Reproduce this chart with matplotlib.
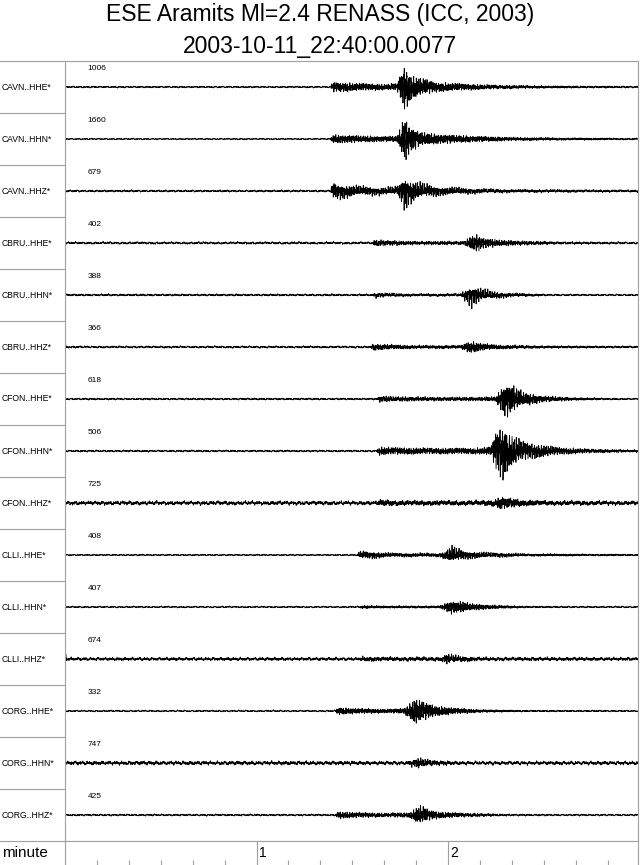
import numpy as np
import matplotlib
matplotlib.use('Agg')
import matplotlib.pyplot as plt
from matplotlib.lines import Line2D

# station / channel names, top to bottom
names = ['CAVN..HHE*', 'CAVN..HHN*', 'CAVN..HHZ*',
         'CBRU..HHE*', 'CBRU..HHN*', 'CBRU..HHZ*',
         'CFON..HHE*', 'CFON..HHN*', 'CFON..HHZ*',
         'CLLI..HHE*', 'CLLI..HHN*', 'CLLI..HHZ*',
         'CORG..HHE*', 'CORG..HHN*', 'CORG..HHZ*']
peak_counts = [1006, 1660, 679, 402, 388, 366, 618, 506, 725, 408, 407, 674, 332, 747, 425]

# background noise level of each trace (pixels on the reference)
noise_px = [0.7, 0.6, 0.9, 1.0, 0.9, 0.9, 0.8, 0.8, 1.7, 0.6, 0.7, 1.4, 0.7, 1.7, 0.8]

# event envelopes: time (s) and half-amplitude (pixels)
env_t = [
    [0, 83, 84, 90, 100, 104, 105.5, 106.5, 108, 111, 117, 127, 136, 152, 180],
    [0, 83, 84, 90, 100, 104, 105.5, 106.5, 108, 111, 117, 127, 140, 160, 180],
    [0, 83, 84, 87, 92, 100, 104, 105.5, 106.5, 108, 112, 118, 128, 140, 180],
    [0, 96, 97, 101, 110, 125, 127, 128.5, 131, 135, 142, 155, 180],
    [0, 96, 97, 101, 110, 124, 126, 127.5, 130, 134, 140, 152, 180],
    [0, 0.6, 95.5, 96.5, 100, 110, 124, 126, 128, 131, 136, 150, 180],
    [0, 97.5, 98.5, 103, 115, 130, 135, 136.5, 138.5, 141, 144, 150, 160, 180],
    [0, 97.5, 98.5, 103, 115, 130, 133.5, 135, 137, 139, 143, 148, 155, 165, 180],
    [0, 97.5, 98.5, 105, 130, 134.5, 136.5, 139, 143, 150, 180],
    [0, 91.5, 92.5, 97, 103, 117, 119, 121, 123, 126, 132, 145, 180],
    [0, 92, 93, 100, 117, 119, 121, 124, 128, 134, 145, 180],
    [0, 0.6, 92, 93, 100, 118, 119.5, 121, 124, 130, 180],
    [0, 84.5, 85.5, 90, 100, 106, 108, 109.5, 112, 116, 122, 130, 145, 180],
    [0, 84.5, 85.5, 95, 107, 109, 110.5, 113, 118, 126, 180],
    [0, 84.5, 85.5, 90, 100, 108, 110, 111.5, 114, 118, 125, 140, 180],
]
env_a = [
    [0, 0, 4.5, 3.5, 2.5, 3, 14, 21, 12, 8, 4, 2.5, 1.5, 0.8, 0.3],
    [0, 0, 3.5, 3, 2, 2.5, 12, 21, 12, 6, 4, 2.5, 1.2, 0.6, 0.3],
    [0, 0, 7, 6, 4, 3, 3.5, 10, 15, 10, 6, 3.5, 2, 1, 0.4],
    [0, 0, 3, 2.2, 1.5, 1.5, 6, 8, 5, 3, 2, 0.8, 0.3],
    [0, 0, 2.5, 2, 1.3, 1.5, 7, 9.5, 6, 3.5, 2, 0.8, 0.3],
    [5, 0, 0, 3, 2.3, 1.3, 1.3, 4.5, 5, 3, 1.8, 0.8, 0.3],
    [0, 0, 3.2, 2.5, 2, 2, 2.5, 10, 16, 10, 6, 3, 1.5, 0.5],
    [0, 0, 3.5, 3, 2.5, 2.5, 4, 18, 25, 16, 9, 6, 3, 1.5, 0.5],
    [0, 0, 2, 1.2, 1, 2, 5, 4, 2, 1, 0.3],
    [0, 0, 3, 2.5, 1.3, 1.2, 3, 7, 5, 3, 2, 0.7, 0.2],
    [0, 0, 1.5, 1, 1, 3, 6, 5, 3, 1.8, 0.6, 0.2],
    [6, 0, 0, 1.5, 1, 1, 4.5, 3, 2, 0.8, 0.2],
    [0, 0, 3.5, 2.8, 2, 2.5, 7, 12, 9, 5, 3, 1.5, 0.6, 0.2],
    [0, 0, 1.5, 1, 1, 3.5, 5, 3.5, 2, 0.8, 0.2],
    [0, 0, 3.5, 2.8, 2, 2.5, 7, 8.5, 5, 3, 2, 0.8, 0.2],
]

W, H = 640, 865
ROW_PX = 52.0
T_END = 179.5
GRAY = '#a0a0a0'
plt.rcParams['font.family'] = ['Liberation Sans', 'DejaVu Sans']

fs = 25.0
t = np.arange(0, T_END, 1 / fs)


def carrier(t, k):
    ph = 0.9 * k + 0.3
    c = (np.sin(2 * np.pi * 2.3 * t + ph) + 0.8 * np.sin(2 * np.pi * 3.7 * t + 2 * ph)
         + 0.6 * np.sin(2 * np.pi * 5.9 * t + 3 * ph) + 0.5 * np.sin(2 * np.pi * 1.3 * t + 5 * ph)
         + 0.4 * np.sin(2 * np.pi * 8.1 * t + 7 * ph))
    return c / 2.1


def background(t, k):
    ph = 1.3 * k + 0.5
    b = (0.35 * np.sin(2 * np.pi * 0.47 * t + ph) + 0.25 * np.sin(2 * np.pi * 0.83 * t + 2 * ph)
         + 0.8 * carrier(t + 3.1 * k, k + 20))
    return b


fig = plt.figure(figsize=(W / 100, H / 100), dpi=100)
n = len(names)
top_px, bot_px, left_px, right_px = 61, 841, 65, 638

ax = fig.add_axes([left_px / W, (H - bot_px) / H, (right_px - left_px) / W, (bot_px - top_px) / H])
for i in range(n):
    env = np.interp(t, env_t[i], env_a[i])
    s = noise_px[i] * background(t, i) + env * carrier(t, i)
    ax.plot(t, i + 0.5 - s / ROW_PX, color='black', lw=0.6)
    ax.text(7, i + 7 / ROW_PX, str(peak_counts[i]), fontsize=6, va='center', ha='left')
    fig.text(2 / W, 1 - (top_px + ROW_PX * (i + 0.5)) / H, names[i], fontsize=6.2,
             va='center', ha='left')
ax.set_xlim(0, T_END)
ax.set_ylim(n, 0)
ax.set_xticks([])
ax.set_yticks([])
for sp in ax.spines.values():
    sp.set_color(GRAY)
    sp.set_linewidth(0.8)

# separators in the label column
for k in range(n + 1):
    y = 1 - (top_px + ROW_PX * k) / H
    fig.add_artist(Line2D([0, left_px / W], [y, y], transform=fig.transFigure, color=GRAY, lw=0.8))

# time axis row
axt = fig.add_axes([left_px / W, 0, (right_px - left_px) / W, (H - bot_px) / H])
axt.set_xlim(0, T_END)
axt.set_ylim(0, 1)
axt.set_yticks([])
axt.set_xticks([x for x in range(10, 180, 10) if x % 60 != 0])
axt.set_xticklabels([])
axt.tick_params(axis='x', direction='in', length=3.5, color=GRAY, width=0.8)
for m in [60, 120]:
    axt.axvline(m, color=GRAY, lw=0.8)
    axt.text(m + 0.8, 0.48, str(m // 60), fontsize=10, va='center', ha='left')
for sp in axt.spines.values():
    sp.set_color(GRAY)
    sp.set_linewidth(0.8)
axt.spines['bottom'].set_visible(False)
fig.text(2 / W, 1 - 853 / H, 'minute', fontsize=11, va='center', ha='left')

fig.text(0.5, 1 - 14 / H, 'ESE Aramits Ml=2.4 RENASS (ICC, 2003)', fontsize=16.5, ha='center', va='center')
fig.text(0.5, 1 - 46 / H, '2003-10-11_22:40:00.0077', fontsize=16.5, ha='center', va='center')

fig.savefig('out.png', dpi=100)
